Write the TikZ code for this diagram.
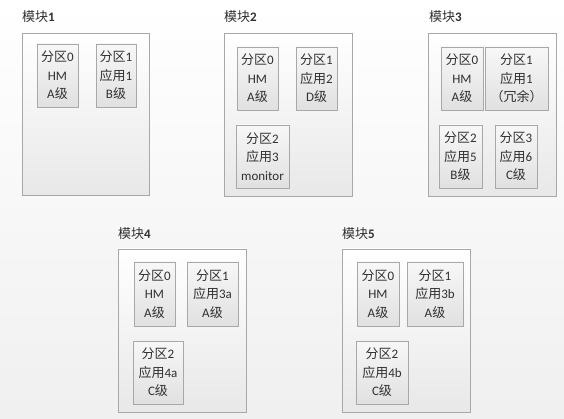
\documentclass[tikz,border=0pt]{standalone}
\usepackage{fontspec}
\setmainfont{Carlito}
\newfontfamily\cjk{Noto Sans CJK SC}
\usetikzlibrary{shadows}
\newcommand\zh[1]{{\cjk #1}}
\definecolor{txt}{HTML}{303030}
\definecolor{edge}{HTML}{A8A8A8}
\tikzset{
  module/.style={draw=edge, line width=0.8pt, top color=white, bottom color=black!9,
    drop shadow={shadow xshift=1pt, shadow yshift=-1pt, opacity=0.25, fill=black!40},
    inner sep=0pt},
  part/.style={draw=edge, line width=0.8pt, top color=black!3, bottom color=black!12,
    drop shadow={shadow xshift=1pt, shadow yshift=-1pt, opacity=0.25, fill=black!40},
    inner sep=0pt, align=center, text=txt, font=\fontsize{13}{18.5}\selectfont},
  title/.style={anchor=west, inner sep=0pt, text=txt, font=\fontsize{13}{15}\selectfont}
}
\begin{document}
\begin{tikzpicture}[x=1pt,y=-1pt]
\useasboundingbox (0,0) rectangle (564,419);
\fill[top color=white, bottom color=black!6] (0,0) rectangle (564,419);

% Module 1
\node[title] (t1) at (22,17) {\zh{模块}\textbf{1}};
\node[module, minimum width=127pt, minimum height=162pt] (m1) at (85.5,114) {};
\node[part, minimum width=41pt, minimum height=63pt] (m1a) at (57.5,75.5) {\zh{分区}0\\HM\\A\zh{级}};
\node[part, minimum width=40pt, minimum height=63pt] (m1b) at (116,75.5) {\zh{分区}1\\\zh{应用}1\\B\zh{级}};

% Module 2
\node[title] (t2) at (224,17) {\zh{模块}\textbf{2}};
\node[module, minimum width=128pt, minimum height=163pt] (m2) at (288,114.5) {};
\node[part, minimum width=41pt, minimum height=63pt] (m2a) at (257.5,78.5) {\zh{分区}0\\HM\\A\zh{级}};
\node[part, minimum width=41pt, minimum height=63pt] (m2b) at (316.5,78.5) {\zh{分区}1\\\zh{应用}2\\D\zh{级}};
\node[part, minimum width=53pt, minimum height=63pt] (m2c) at (262.5,156.5) {\zh{分区}2\\\zh{应用}3\\monitor};

% Module 3
\node[title] (t3) at (429,17) {\zh{模块}\textbf{3}};
\node[module, minimum width=128pt, minimum height=163pt] (m3) at (492,114.5) {};
\node[part, minimum width=42pt, minimum height=63pt] (m3a) at (462,78.5) {\zh{分区}0\\HM\\A\zh{级}};
\node[part, minimum width=63pt, minimum height=63pt] (m3b) at (516.5,78.5) {\zh{分区}1\\\zh{应用}1\\\zh{（冗余）}};
\node[part, minimum width=43pt, minimum height=63pt] (m3c) at (460.5,156.5) {\zh{分区}2\\\zh{应用}5\\B\zh{级}};
\node[part, minimum width=42pt, minimum height=63pt] (m3d) at (516,156.5) {\zh{分区}3\\\zh{应用}6\\C\zh{级}};

% Module 4
\node[title] (t4) at (118,234) {\zh{模块}\textbf{4}};
\node[module, minimum width=128pt, minimum height=163pt] (m4) at (182,330.5) {};
\node[part, minimum width=41pt, minimum height=64pt] (m4a) at (154.5,294) {\zh{分区}0\\HM\\A\zh{级}};
\node[part, minimum width=51pt, minimum height=64pt] (m4b) at (212.5,294) {\zh{分区}1\\\zh{应用}3a\\A\zh{级}};
\node[part, minimum width=50pt, minimum height=63pt] (m4c) at (158,372.5) {\zh{分区}2\\\zh{应用}4a\\C\zh{级}};

% Module 5
\node[title] (t5) at (342,234) {\zh{模块}\textbf{5}};
\node[module, minimum width=128pt, minimum height=163pt] (m5) at (406,330.5) {};
\node[part, minimum width=42pt, minimum height=64pt] (m5a) at (378,294) {\zh{分区}0\\HM\\A\zh{级}};
\node[part, minimum width=56pt, minimum height=64pt] (m5b) at (435,294) {\zh{分区}1\\\zh{应用}3b\\A\zh{级}};
\node[part, minimum width=52pt, minimum height=63pt] (m5c) at (382,372.5) {\zh{分区}2\\\zh{应用}4b\\C\zh{级}};
\end{tikzpicture}
\end{document}
